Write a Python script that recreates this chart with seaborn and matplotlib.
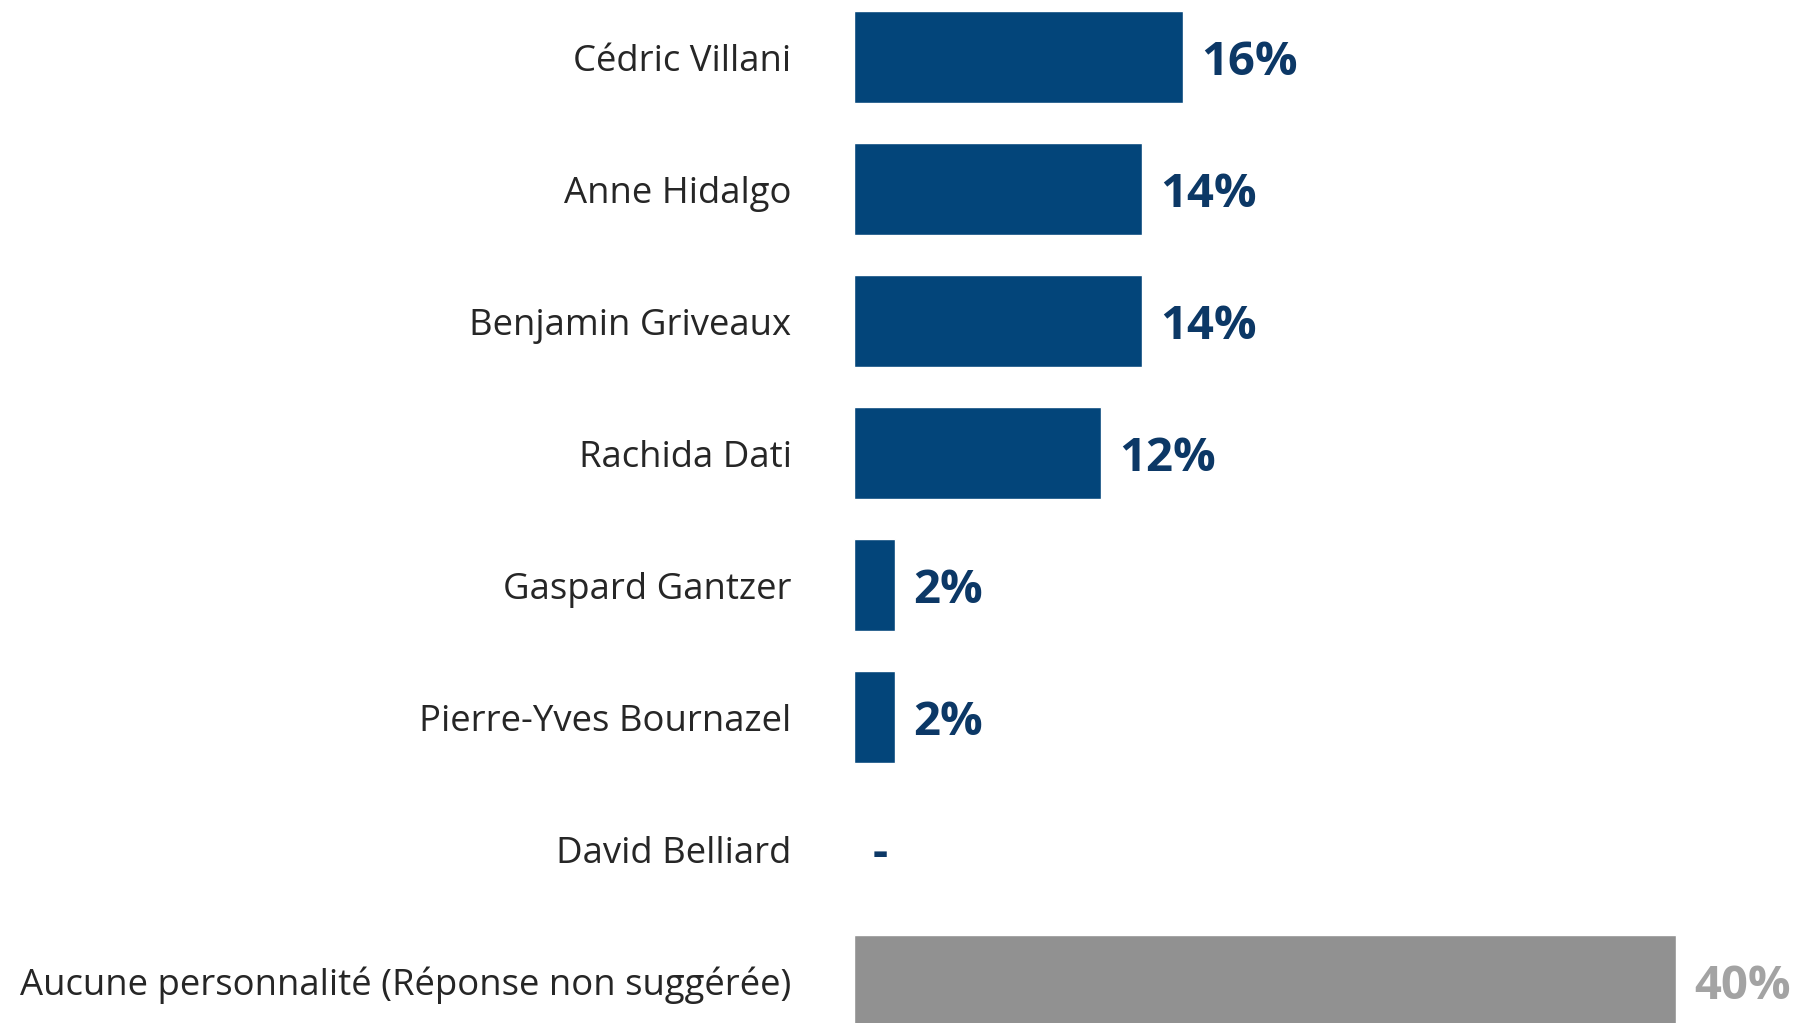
import matplotlib
matplotlib.use("Agg")
import matplotlib.pyplot as plt
import seaborn as sns

names = ["Cédric Villani", "Anne Hidalgo", "Benjamin Griveaux", "Rachida Dati",
         "Gaspard Gantzer", "Pierre-Yves Bournazel", "David Belliard",
         "Aucune personnalité (Réponse non suggérée)"]
values = [16, 14, 14, 12, 2, 2, 0, 40]
value_labels = ["16%", "14%", "14%", "12%", "2%", "2%", "-", "40%"]
bar_colors = ["#03457A"] * 7 + ["#919191"]
label_colors = ["#0C3866"] * 7 + ["#A3A3A3"]

sns.set_style("white")
plt.rcParams["font.family"] = ["Open Sans", "DejaVu Sans"]

fig = plt.figure(figsize=(17.95, 10.23), dpi=100)
ax = fig.add_axes([0.4758, 0.0, 0.5242, 1.0])

sns.barplot(x=values, y=names, hue=names, palette=bar_colors, width=0.70,
            legend=False, ax=ax, saturation=1)

for i, (v, lab) in enumerate(zip(values, value_labels)):
    ax.text(v + 0.9, i, lab, va="center_baseline", ha="left", fontsize=34,
            fontweight="bold", color=label_colors[i])

ax.set_xlim(0, 45.8)
ax.set_ylim(7.318, -0.432)
ax.set_xticks([])
ax.set_xlabel("")
ax.set_ylabel("")
ax.tick_params(axis="y", length=0, pad=45, labelsize=26.3, labelcolor="#262626")
for t in ax.get_yticklabels():
    t.set_va("center_baseline")
sns.despine(ax=ax, left=True, bottom=True)

fig.savefig("out.png", dpi=100)
